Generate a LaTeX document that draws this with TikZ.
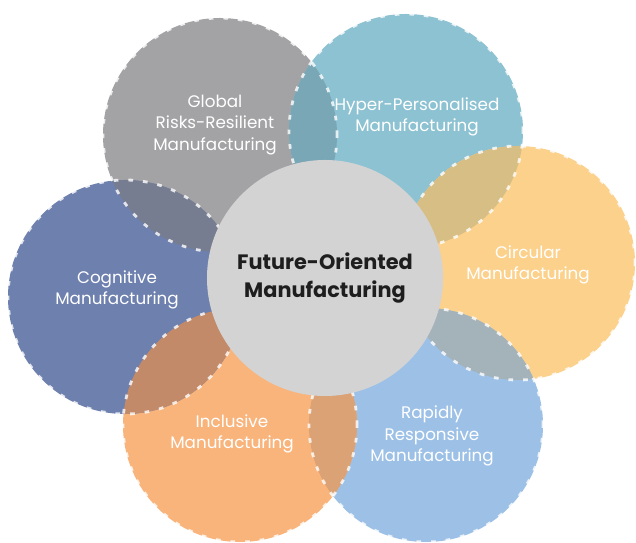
\documentclass[tikz,border=0pt]{standalone}
\usepackage{fontspec}
\setmainfont{Poppins}
\definecolor{fmgray}{HTML}{A3A3A6}
\definecolor{fmteal}{HTML}{8DC2D2}
\definecolor{fmsand}{HTML}{FCD18C}
\definecolor{fmsky}{HTML}{9DC1E6}
\definecolor{fmpeach}{HTML}{F9B47C}
\definecolor{fmslate}{HTML}{6E80AE}
\definecolor{fmhub}{HTML}{D3D3D3}
\definecolor{fmdark}{HTML}{1E1E1E}
% overlap colours
\definecolor{lensgt}{HTML}{79A7B6}
\definecolor{lensts}{HTML}{D7BE84}
\definecolor{lenssk}{HTML}{A4B2BA}
\definecolor{lenskp}{HTML}{DAA275}
\definecolor{lenspl}{HTML}{C28A69}
\definecolor{lenslg}{HTML}{777D90}
\usetikzlibrary{positioning}

\begin{document}
\begin{tikzpicture}[
  x=0.03cm, y=-0.03cm,
  rim/.style={draw=white, draw opacity=0.8, line width=2.4pt,
              dash pattern=on 4pt off 8.5pt},
  lbl/.style={text=white, align=center,
              font=\fontsize{14.3}{18.5}\selectfont},
  hub/.style={circle, fill=fmhub, minimum size=7.08cm, inner sep=0pt,
              align=center, text=fmdark,
              font=\fontsize{17.8}{24}\selectfont\bfseries}
]
\def\pr{3.51cm}
\useasboundingbox (0,0) rectangle (636,543);

% Petal centres
\coordinate (gc) at (220,135);
\coordinate (tc) at (406,131);
\coordinate (sc) at (518,263);
\coordinate (kc) at (426,425);
\coordinate (pc) at (240,425);
\coordinate (lc) at (125,297);

% Petal fills
\fill[fmgray]  (gc) circle[radius=\pr];
\fill[fmteal]  (tc) circle[radius=\pr];
\fill[fmsand]  (sc) circle[radius=\pr];
\fill[fmsky]   (kc) circle[radius=\pr];
\fill[fmpeach] (pc) circle[radius=\pr];
\fill[fmslate] (lc) circle[radius=\pr];

% Overlaps
\begin{scope} \clip (gc) circle[radius=\pr]; \fill[lensgt] (tc) circle[radius=\pr]; \end{scope}
\begin{scope} \clip (tc) circle[radius=\pr]; \fill[lensts] (sc) circle[radius=\pr]; \end{scope}
\begin{scope} \clip (sc) circle[radius=\pr]; \fill[lenssk] (kc) circle[radius=\pr]; \end{scope}
\begin{scope} \clip (kc) circle[radius=\pr]; \fill[lenskp] (pc) circle[radius=\pr]; \end{scope}
\begin{scope} \clip (pc) circle[radius=\pr]; \fill[lenspl] (lc) circle[radius=\pr]; \end{scope}
\begin{scope} \clip (lc) circle[radius=\pr]; \fill[lenslg] (gc) circle[radius=\pr]; \end{scope}

% Dashed rims
\draw[rim] (gc) circle[radius=\pr];
\draw[rim] (tc) circle[radius=\pr];
\draw[rim] (sc) circle[radius=\pr];
\draw[rim] (kc) circle[radius=\pr];
\draw[rim] (pc) circle[radius=\pr];
\draw[rim] (lc) circle[radius=\pr];

% Centre
\node[hub] (hub) at (325,278) {Future-Oriented\\Manufacturing};

% Labels
\node[lbl] (global)    at (215,125) {Global\\Risks-Resilient\\Manufacturing};
\node[lbl] (hyper)     at (417,117) {Hyper-Personalised\\Manufacturing};
\node[lbl] (circular)  at (528,265) {Circular\\Manufacturing};
\node[lbl] (rapid)     at (432,436) {Rapidly\\Responsive\\Manufacturing};
\node[lbl] (inclusive) at (232,434) {Inclusive\\Manufacturing};
\node[lbl] (cognitive) at (117,290) {Cognitive\\Manufacturing};
\end{tikzpicture}
\end{document}
